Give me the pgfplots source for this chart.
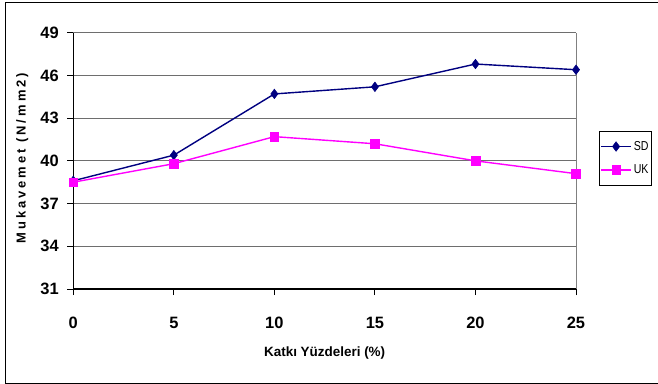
\documentclass[border=0pt]{standalone}
\usepackage{fontspec}
\setmainfont{Liberation Sans}
\newfontfamily\narrowfont{Liberation Sans}[FakeStretch=0.82]
\newfontfamily\ylabfont{Liberation Sans}[LetterSpace=23]
\usepackage{pgfplots}
\pgfplotsset{compat=1.18}

\definecolor{sdblue}{RGB}{0,0,128}
\definecolor{ukmag}{RGB}{255,0,255}
\definecolor{gridgray}{RGB}{110,110,110}

\begin{document}
\begin{tikzpicture}
\begin{axis}[
  at={(73.3bp,95bp)}, anchor=south west,
  scale only axis,
  width=502.7bp, height=256.3bp,
  xmin=0, xmax=25, ymin=31, ymax=49,
  xtick={0,5,...,25},
  ytick={31,34,...,49},
  axis lines*=left,
  axis line style={black, line width=1.3bp},
  tick align=outside,
  major tick length=6bp,
  tick style={black, line width=1bp},
  ymajorgrids,
  major grid style={gridgray, line width=0.9bp},
  extra x ticks={25},
  extra x tick labels={},
  extra x tick style={grid=major, major grid style={gray, line width=0.9bp}},
  /pgf/number format/assume math mode=true,
  ticklabel style={font=\bfseries\fontsize{16.5}{16.5}\selectfont},
  xticklabel style={yshift=-19bp},
  yticklabel style={xshift=-5bp},
  xlabel={Katkı Yüzdeleri (\%)},
  xlabel style={font=\bfseries\fontsize{13.5}{13.5}\selectfont,
                at={(axis description cs:0.5,-0.265)}, anchor=base},
  ylabel={Mukavemet (N/mm2)},
  ylabel style={font=\ylabfont\bfseries\fontsize{13}{13}\selectfont,
                at={(axis description cs:-0.1014,0.51)}, anchor=center},
  legend style={at={(axis description cs:1.0457,0.617)}, anchor=north west,
                draw=black, line width=0.8bp, inner xsep=1bp, inner ysep=8bp,
                row sep=9bp,
                font=\narrowfont\fontsize{13}{13}\selectfont},
  legend cell align=left,
  legend image code/.code={%
    \draw[mark repeat=2, mark phase=2, #1]
      plot coordinates {(0bp,0bp) (15bp,0bp) (30bp,0bp)};},
  clip=false,
]
\addplot[sdblue, line width=1.4bp, mark=diamond*, mark size=4.8bp,
         mark options={fill=sdblue, line width=0.5bp}]
  coordinates {(0,38.6) (5,40.4) (10,44.7) (15,45.2) (20,46.8) (25,46.4)};
\addlegendentry{SD}
\addplot[ukmag, line width=1.4bp, mark=square*, mark size=4.3bp,
         mark options={fill=ukmag, line width=0.5bp}]
  coordinates {(0,38.5) (5,39.8) (10,41.7) (15,41.2) (20,40.0) (25,39.1)};
\addlegendentry{UK}
\end{axis}
% chart area frame (open on the right edge)
\draw[black, line width=1bp] (658bp,381bp) -- (5bp,381bp) -- (5bp,1bp) -- (658bp,1bp);
\pgfresetboundingbox
\useasboundingbox (0,0) rectangle (658bp,384bp);
\end{tikzpicture}
\end{document}
